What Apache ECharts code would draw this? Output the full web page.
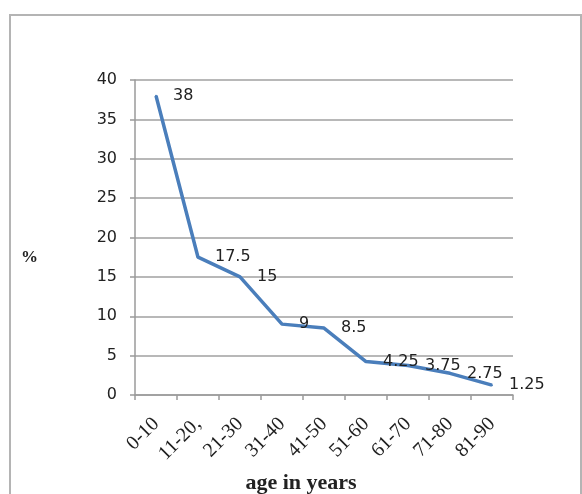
<!DOCTYPE html>
<html>
<head>
<meta charset="utf-8">
<script src="https://cdn.jsdelivr.net/npm/echarts@6/dist/echarts.min.js"></script>
<style>
html,body{margin:0;padding:0;background:#fff;}
#c{width:582px;height:494px;}
</style>
</head>
<body>
<div id="c"></div>
<script>
var categories = ['0-10', '11-20,', '21-30', '31-40', '41-50', '51-60', '61-70', '71-80', '81-90'];
var percentValues = [38, 17.5, 15, 9, 8.5, 4.25, 3.75, 2.75, 1.25];
var yTicks = { min: 0, max: 40, interval: 5 };

var chart = echarts.init(document.getElementById('c'), null, { renderer: 'canvas' });
chart.setOption({
  backgroundColor: '#ffffff',
  animation: false,
  graphic: [{
    type: 'rect',
    shape: { x: 10, y: 15, width: 571, height: 520 },
    style: { fill: 'none', stroke: '#b4b4b4', lineWidth: 2 },
    silent: true
  }],
  grid: { left: 135, right: 69, top: 80, bottom: 99, containLabel: false, outerBoundsMode: 'none' },
  xAxis: {
    type: 'category',
    data: categories,
    boundaryGap: true,
    name: 'age in years',
    nameLocation: 'middle',
    nameGap: 77,
    nameTextStyle: {
      fontFamily: 'Liberation Serif', fontWeight: 'bold', fontSize: 22, color: '#222',
      padding: [0, 46, 0, 0]
    },
    axisLine: { show: true, lineStyle: { color: '#9a9a9a', width: 1.5 } },
    axisTick: { show: true, interval: 0, length: 5, alignWithLabel: false, lineStyle: { color: '#9a9a9a', width: 1.5 } },
    axisLabel: {
      interval: 0, rotate: 45, margin: 26,
      fontFamily: 'Liberation Serif', fontSize: 20, color: '#222'
    },
    splitLine: { show: false }
  },
  yAxis: {
    type: 'value',
    min: yTicks.min, max: yTicks.max, interval: yTicks.interval,
    name: '%',
    nameLocation: 'middle',
    nameRotate: 0,
    nameGap: 97,
    nameTextStyle: {
      fontFamily: 'Liberation Serif', fontWeight: 'bold', fontSize: 17, color: '#222',
      verticalAlign: 'top',
      padding: [12, 0, 0, 0]
    },
    axisLine: { show: true, lineStyle: { color: '#9a9a9a', width: 1.5 } },
    axisTick: { show: true, length: 5, lineStyle: { color: '#9a9a9a', width: 1.5 } },
    axisLabel: { margin: 18, fontFamily: 'DejaVu Sans', fontSize: 16, color: '#222' },
    splitLine: { show: true, lineStyle: { color: '#a0a0a0', width: 1.5 } }
  },
  series: [{
    type: 'line',
    data: percentValues,
    symbol: 'circle',
    symbolSize: 2,
    showSymbol: true,
    itemStyle: { color: '#4a7ebb' },
    lineStyle: { color: '#4a7ebb', width: 3.5 },
    label: {
      show: true, position: 'right', distance: 16,
      fontFamily: 'DejaVu Sans', fontSize: 16, color: '#222'
    }
  }]
});
</script>
</body>
</html>
